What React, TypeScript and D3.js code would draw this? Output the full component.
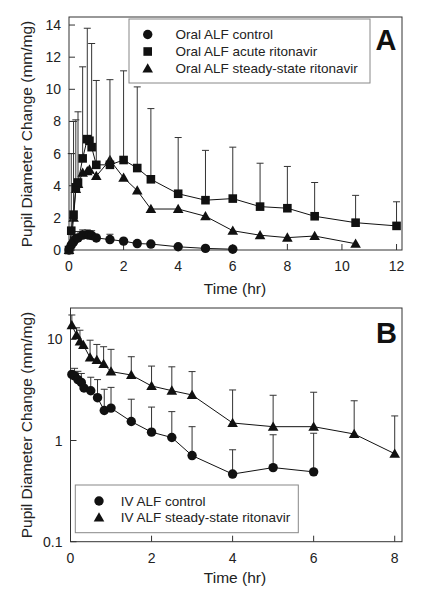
import React from 'react';
import * as d3 from 'd3';

// ---------- Panel A data (oral) ----------
const aCtrlT = [0, 0.083, 0.167, 0.25, 0.33, 0.5, 0.67, 0.75, 0.83, 1, 1.5, 2, 2.5, 3, 4, 5, 6];
const aCtrlV = [0, 0.3, 0.5, 0.7, 0.75, 0.93, 0.95, 0.93, 0.9, 0.75, 0.65, 0.55, 0.4, 0.37, 0.2, 0.1, 0.05];
const aCtrlHi = [null, null, null, null, 1.15, 1.25, 1.25, 1.2, 1.2, null, 0.98, null, null, null, null, null, null];

const aAcuteT = [0, 0.083, 0.167, 0.25, 0.33, 0.5, 0.67, 0.75, 0.83, 1, 1.5, 2, 2.5, 3, 4, 5, 6, 7, 8, 9, 10.5, 12];
const aAcuteV = [0, 1.2, 2.2, 3.9, 4.2, 5.7, 6.9, 6.8, 6.4, 5.3, 5.3, 5.6, 5.1, 4.4, 3.5, 3.1, 3.2, 2.7, 2.6, 2.1, 1.7, 1.5];
const aAcuteHi = [null, 6.0, 8.0, 8.1, 8.6, 11.4, 13.8, null, 12.85, 10.55, 10.6, 11.15, 10.15, 8.8, 7.0, 6.2, 6.4, 5.4, 5.2, 4.2, 3.4, 3.0];

const aSteadyT = [0, 0.083, 0.167, 0.25, 0.33, 0.5, 0.67, 0.75, 1, 1.5, 2, 2.5, 3, 4, 5, 6, 7, 8, 9, 10.5];
const aSteadyV = [0, 0.5, 2.0, 3.8, 4.1, 4.8, 4.9, 5.0, 4.6, 5.6, 4.5, 3.7, 2.55, 2.55, 2.1, 1.2, 0.92, 0.77, 0.87, 0.39];

const aYTicks = [0, 2, 4, 6, 8, 10, 12, 14];
const aXTicks = [0, 2, 4, 6, 8, 10, 12];
const aLegend = ['Oral ALF control', 'Oral ALF acute ritonavir', 'Oral ALF steady-state ritonavir'];

// ---------- Panel B data (IV) ----------
const bCtrlT = [0.033, 0.1, 0.183, 0.267, 0.333, 0.5, 0.667, 0.833, 1, 1.5, 2, 2.5, 3, 4, 5, 6];
const bCtrlV = [4.5, 4.35, 4.0, 3.75, 3.3, 3.1, 2.65, 1.98, 2.09, 1.54, 1.21, 1.07, 0.71, 0.466, 0.54, 0.49];
const bCtrlHi = [null, 5.17, 4.83, 4.6, null, 4.22, 4.0, 3.21, 3.35, 2.56, 2.14, 1.93, 1.37, 0.81, 1.14, 1.18];

const bSteadyT = [0.033, 0.15, 0.233, 0.317, 0.483, 0.65, 0.817, 1, 1.5, 2, 2.5, 3, 4, 5, 6, 7, 8];
const bSteadyV = [13.8, 11.0, 9.5, 8.8, 6.6, 6.25, 5.7, 4.8, 4.44, 3.46, 3.11, 2.82, 1.49, 1.37, 1.37, 1.16, 0.74];
const bSteadyHi = [17.4, 13.0, 12.3, null, 9.8, 8.9, 8.45, 7.96, 6.73, 5.44, 5.35, 4.8, 3.16, 2.8, 3.0, 2.47, 1.75];

const bYTicks = [0.1, 1, 10];
const bYTickLabels = ['0.1', '1', '10'];
const bXTicks = [0, 2, 4, 6, 8];
const bLegend = ['IV ALF control', 'IV ALF steady-state ritonavir'];

const yTitle = 'Pupil Diameter Change (mm/mg)';
const xTitle = 'Time (hr)';

const FONT = '"Liberation Sans", Arial, Helvetica, sans-serif';
const INK = '#111';

type Shape = 'circle' | 'square' | 'triangle';

function Marker({ shape, x, y }: { shape: Shape; x: number; y: number }) {
  if (shape === 'circle') return <circle cx={x} cy={y} r={4.7} fill={INK} />;
  if (shape === 'square') return <rect x={x - 4.3} y={y - 4.3} width={8.6} height={8.6} fill={INK} />;
  return <path d={`M${x},${y - 5.3}L${x + 5.3},${y + 4}L${x - 5.3},${y + 4}Z`} fill={INK} />;
}

function Series({ t, v, hi, shape, x, y }: any) {
  const pts = t.map((tt: number, i: number) => [x(tt), y(v[i])] as [number, number]);
  const line = d3.line()(pts) || '';
  return (
    <g>
      {hi && t.map((tt: number, i: number) =>
        hi[i] == null ? null : (
          <g key={'e' + i} stroke="#333" strokeWidth={1}>
            <line x1={x(tt)} x2={x(tt)} y1={y(v[i])} y2={y(hi[i])} />
            <line x1={x(tt) - 3.5} x2={x(tt) + 3.5} y1={y(hi[i])} y2={y(hi[i])} />
          </g>
        ))}
      <path d={line} fill="none" stroke={INK} strokeWidth={1} />
      {pts.map((p: [number, number], i: number) => <Marker key={i} shape={shape} x={p[0]} y={p[1]} />)}
    </g>
  );
}

function Axes({ x, y, xTicks, yTicks, yLabels, left, right, top, bottom }: any) {
  return (
    <g>
      <rect x={left} y={top} width={right - left} height={bottom - top} fill="none" stroke="#333" strokeWidth={1} />
      {yTicks.map((v: number, i: number) => (
        <g key={'y' + i}>
          <line x1={left} x2={left + 6} y1={y(v)} y2={y(v)} stroke="#333" />
          <text x={left - 8} y={y(v)} dy="0.36em" textAnchor="end" fontSize={14} fill="#222">{yLabels ? yLabels[i] : String(v)}</text>
        </g>
      ))}
      {xTicks.map((v: number, i: number) => (
        <g key={'x' + i}>
          <line x1={x(v)} x2={x(v)} y1={bottom} y2={bottom - 6} stroke="#333" />
          <text x={x(v)} y={bottom + 16} dy="0.36em" textAnchor="middle" fontSize={14} fill="#222">{String(v)}</text>
        </g>
      ))}
    </g>
  );
}

export default function App() {
  // Panel A scales
  const aL = 69, aR = 402, aT = 17, aB = 250;
  const ax = d3.scaleLinear().domain([0, 12.2]).range([aL, aR]);
  const ay = d3.scaleLinear().domain([0, 14.5]).range([aB, aT]);

  // Panel B scales
  const bL = 70.5, bR = 402, bT = 308, bB = 541.7;
  const bx = d3.scaleLinear().domain([0, 8.18]).range([bL, bR]);
  const by = d3.scaleLog().domain([0.1, 20.4]).range([bB, bT]);

  const shapesA: Shape[] = ['circle', 'square', 'triangle'];
  const shapesB: Shape[] = ['circle', 'triangle'];

  return (
    <svg width={428} height={600} viewBox="0 0 428 600"
      style={{ position: 'absolute', left: 0, top: 0, background: '#fff', fontFamily: FONT }}>
      <rect width={428} height={600} fill="#fff" />

      {/* Panel A */}
      <Axes x={ax} y={ay} xTicks={aXTicks} yTicks={aYTicks} left={aL} right={aR} top={aT} bottom={aB} />
      <Series t={aCtrlT} v={aCtrlV} hi={aCtrlHi} shape="circle" x={ax} y={ay} />
      <Series t={aSteadyT} v={aSteadyV} hi={null} shape="triangle" x={ax} y={ay} />
      <Series t={aAcuteT} v={aAcuteV} hi={aAcuteHi} shape="square" x={ax} y={ay} />
      <g>
        <rect x={129} y={19} width={241} height={64} fill="#fff" stroke="#888" strokeWidth={1} />
        {aLegend.map((s, i) => (
          <g key={s}>
            <Marker shape={shapesA[i]} x={147.7} y={34.5 + i * 17} />
            <text x={175.5} y={34.5 + i * 17} dy="0.36em" fontSize={13.5} fill="#222">{s}</text>
          </g>
        ))}
      </g>
      <text x={386} y={50} textAnchor="middle" fontSize={29} fontWeight="bold" fill={INK}>A</text>
      <text x={235} y={288} dy="0.36em" textAnchor="middle" fontSize={15.5} fill="#222">{xTitle}</text>
      <text transform={`translate(26,134) rotate(-90)`} dy="0.36em" textAnchor="middle" fontSize={15.5} fill="#222">{yTitle}</text>

      {/* Panel B */}
      <Axes x={bx} y={by} xTicks={bXTicks} yTicks={bYTicks} yLabels={bYTickLabels} left={bL} right={bR} top={bT} bottom={bB} />
      <Series t={bCtrlT} v={bCtrlV} hi={bCtrlHi} shape="circle" x={bx} y={by} />
      <Series t={bSteadyT} v={bSteadyV} hi={bSteadyHi} shape="triangle" x={bx} y={by} />
      <g>
        <rect x={75.3} y={485} width={223} height={47.7} fill="#fff" stroke="#888" strokeWidth={1} />
        {bLegend.map((s, i) => (
          <g key={s}>
            <Marker shape={shapesB[i]} x={99} y={501 + i * 16.5} />
            <text x={120.7} y={501 + i * 16.5} dy="0.36em" fontSize={13.5} fill="#222">{s}</text>
          </g>
        ))}
      </g>
      <text x={386.5} y={343} textAnchor="middle" fontSize={29} fontWeight="bold" fill={INK}>B</text>
      <text x={235} y={577} dy="0.36em" textAnchor="middle" fontSize={15.5} fill="#222">{xTitle}</text>
      <text transform={`translate(26,425) rotate(-90)`} dy="0.36em" textAnchor="middle" fontSize={15.5} fill="#222">{yTitle}</text>
    </svg>
  );
}
